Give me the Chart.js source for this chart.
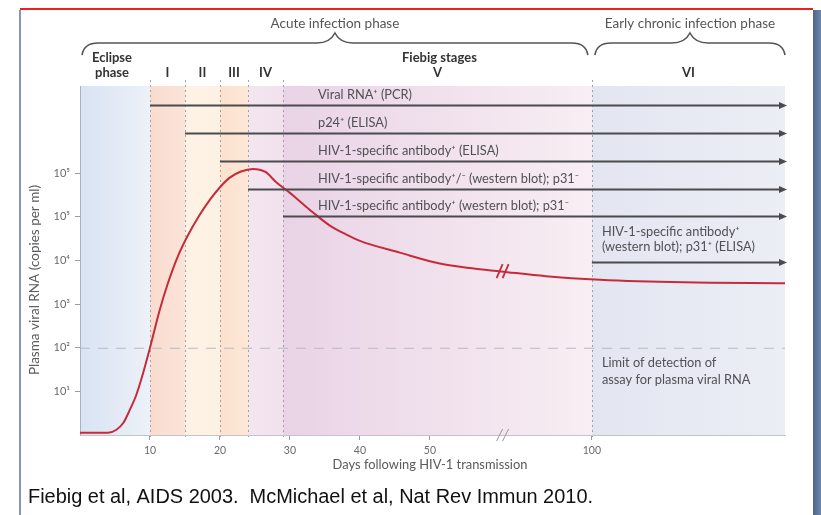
<!DOCTYPE html>
<html><head><meta charset="utf-8">
<script src="https://cdn.jsdelivr.net/npm/chart.js@4"></script>
<style>html,body{margin:0;padding:0;background:#fff;overflow:hidden}canvas{display:block}</style>
</head><body>
<div style="width:821px;height:515px;position:relative"><canvas id="c" width="821" height="515"></canvas></div>
<script>
// ---------- data ----------
const curveDays = [0, 4, 5.2, 6.2, 7.1, 8.0, 8.8, 10, 11.4, 12.5, 14, 15.5, 17, 18.6, 20, 21.4, 23, 24.7, 26.5, 28, 30, 31.6, 33.3, 35.7, 38, 40, 45.7, 51.4, 56, 60.4, 80, 103.5, 140, 184];
const curveLog10 = [0.05, 0.05, 0.12, 0.28, 0.57, 0.9, 1.3, 2.0, 2.87, 3.45, 4.1, 4.6, 5.02, 5.4, 5.68, 5.9, 6.04, 6.1, 6.03, 5.8, 5.55, 5.33, 5.1, 4.8, 4.6, 4.45, 4.18, 3.93, 3.82, 3.75, 3.64, 3.56, 3.5, 3.48];
const xTickDays = [10, 20, 30, 40, 50, 100];
const yTickValues = [10, 100, 1000, 10000, 100000, 1000000];
const yTickLabels = ['10\u00b9', '10\u00b2', '10\u00b3', '10\u2074', '10\u2075', '10\u2075'];
const stageNames = ['Eclipse|phase', 'I', 'II', 'III', 'IV', 'V', 'VI'];
const stageStartDays = [0, 10, 15, 20, 24, 29, 100];
const lastDay = 184;
const breakDay = 60.3;
const detectionLimit = 100;
const assayLabels = [
  ['Viral RNA\u207a (PCR)'],
  ['p24\u207a (ELISA)'],
  ['HIV-1-specific antibody\u207a (ELISA)'],
  ['HIV-1-specific antibody\u207a/\u207b (western blot); p31\u207b'],
  ['HIV-1-specific antibody\u207a (western blot); p31\u207b'],
  ['HIV-1-specific antibody\u207a', '(western blot); p31\u207a (ELISA)']
];
const assayStartDays = [10, 15, 20, 24, 29, 100];
const phaseTitles = ['Acute infection phase', 'Early chronic infection phase'];
const phaseBounds = [[0, 100], [100, 184]];
const xTitle = 'Days following HIV-1 transmission';
const yTitle = 'Plasma viral RNA (copies per ml)';
const limitText = ['Limit of detection of', 'assay for plasma viral RNA'];
const caption = 'Fiebig et al, AIDS 2003.  McMichael et al, Nat Rev Immun 2010.';

// ---------- axis transform (broken axis after day 60) ----------
const compressFrom = 60, compressFactor = 13.14 / 40;
function axisPos(d) { return d <= compressFrom ? d : compressFrom + (d - compressFrom) * compressFactor; }

// ---------- styles ----------
const bandColors = [
  ['#d8e3f3', '#edf1f8'],
  ['#fadcd0', '#fbe3d8'],
  ['#fef2e4', '#fdf1e4'],
  ['#fce2cf', '#fde7d6'],
  ['#f4e6ef', '#f1e2ee'],
  ['#e9d3e6', '#f8eef3'],
  ['#e3e6f1', '#eceef5']
];
const FONT = 'Lato, "Open Sans", sans-serif';

const decor = {
  id: 'decor',
  beforeDraw(chart) {
    const ctx = chart.ctx, a = chart.chartArea, xs = chart.scales.x, ys = chart.scales.y;
    const px = d => xs.getPixelForValue(axisPos(d));
    ctx.save();
    ctx.fillStyle = '#fff';
    ctx.fillRect(0, 0, chart.width, chart.height);
    for (let i = 0; i < stageStartDays.length; i++) {
      const x0 = px(stageStartDays[i]);
      const x1 = i + 1 < stageStartDays.length ? px(stageStartDays[i + 1]) : px(lastDay);
      const g = ctx.createLinearGradient(x0, 0, x1, 0);
      g.addColorStop(0, bandColors[i][0]);
      g.addColorStop(1, bandColors[i][1]);
      ctx.fillStyle = g;
      ctx.fillRect(x0, a.top, x1 - x0, a.bottom - a.top);
    }
    const yl = ys.getPixelForValue(detectionLimit);
    ctx.strokeStyle = '#b9b9c2';
    ctx.lineWidth = 1;
    ctx.setLineDash([10, 8]);
    ctx.beginPath(); ctx.moveTo(a.left, yl + 0.5); ctx.lineTo(a.right, yl + 0.5); ctx.stroke();
    ctx.strokeStyle = '#a0a0a8';
    ctx.setLineDash([2, 3]);
    for (let i = 1; i < stageStartDays.length; i++) {
      const x = Math.round(px(stageStartDays[i])) + 0.5;
      ctx.beginPath(); ctx.moveTo(x, a.top - 6); ctx.lineTo(x, a.bottom + 5); ctx.stroke();
    }
    ctx.setLineDash([]);
    ctx.restore();
  },
  afterDraw(chart) {
    const ctx = chart.ctx, a = chart.chartArea, xs = chart.scales.x, ys = chart.scales.y;
    const px = d => xs.getPixelForValue(axisPos(d));
    ctx.save();
    // arrows
    const rowY = [105, 133, 161, 189, 216, 262];
    const labelX0 = px(assayStartDays[4]) + 35;
    ctx.font = '12.8px ' + FONT;
    ctx.textBaseline = 'middle';
    ctx.textAlign = 'left';
    for (let i = 0; i < assayStartDays.length; i++) {
      const y = rowY[i] + 0.5;
      const x0 = px(assayStartDays[i]);
      const xt = a.right + 2;
      ctx.strokeStyle = '#4b4b4f';
      ctx.lineWidth = 2;
      ctx.beginPath(); ctx.moveTo(x0, y); ctx.lineTo(xt - 6, y); ctx.stroke();
      ctx.fillStyle = '#4b4b4f';
      ctx.beginPath(); ctx.moveTo(xt, y); ctx.lineTo(xt - 8, y - 3.5); ctx.lineTo(xt - 8, y + 3.5); ctx.closePath(); ctx.fill();
      ctx.fillStyle = '#505055';
      const lines = assayLabels[i];
      const lx = lines.length > 1 ? x0 + 10 : labelX0;
      for (let k = 0; k < lines.length; k++) {
        const off = lines.length > 1 ? (lines.length - k) * 15 : 10;
        ctx.fillText(lines[k], lx, rowY[i] - off);
      }
    }
    // limit text
    ctx.fillStyle = '#505055';
    const yl = ys.getPixelForValue(detectionLimit);
    ctx.fillText(limitText[0], px(100) + 10, yl + 15);
    ctx.fillText(limitText[1], px(100) + 10, yl + 32);
    // curve break
    const bx = px(breakDay) + 2, by = ys.getPixelForValue(Math.pow(10, 3.755));
    ctx.strokeStyle = '#c62b3c';
    ctx.lineWidth = 1.8;
    for (const dx of [-3, 3]) {
      ctx.beginPath(); ctx.moveTo(bx + dx - 3, by + 7); ctx.lineTo(bx + dx + 3, by - 7); ctx.stroke();
    }
    // x-axis break
    const ax = px(breakDay) + 2;
    ctx.strokeStyle = '#999';
    ctx.lineWidth = 1;
    for (const dx of [-3, 3]) {
      ctx.beginPath(); ctx.moveTo(ax + dx - 3, a.bottom + 6); ctx.lineTo(ax + dx + 3, a.bottom - 6); ctx.stroke();
    }
    // stage labels
    ctx.fillStyle = '#333';
    ctx.font = 'bold 13px ' + FONT;
    ctx.textAlign = 'center';
    for (let i = 0; i < stageNames.length; i++) {
      const x0 = px(stageStartDays[i]);
      const x1 = i + 1 < stageStartDays.length ? px(stageStartDays[i + 1]) : px(lastDay);
      const parts = stageNames[i].split('|');
      const cx = (x0 + x1) / 2 - (parts.length > 1 ? 3 : 0);
      if (parts.length > 1) {
        ctx.fillText(parts[0], cx, 58);
        ctx.fillText(parts[1], cx, 73);
      } else {
        ctx.fillText(parts[0], cx, 73);
      }
      if (stageNames[i] === 'V') ctx.fillText('Fiebig stages', cx + 2, 58);
    }
    // braces + phase titles
    ctx.strokeStyle = '#55555a';
    ctx.lineWidth = 1.6;
    ctx.fillStyle = '#555';
    ctx.font = '13.5px ' + FONT;
    for (let i = 0; i < phaseBounds.length; i++) {
      const x0 = px(phaseBounds[i][0]) + (i === 0 ? 2 : 3);
      const x1 = px(phaseBounds[i][1]) - (i === 0 ? 4 : 0);
      const m = (x0 + x1) / 2, y = 43;
      ctx.beginPath();
      ctx.moveTo(x0, y + 12);
      ctx.quadraticCurveTo(x0 + 2, y, x0 + 16, y);
      ctx.lineTo(m - 18, y);
      ctx.quadraticCurveTo(m - 5, y, m, y - 10);
      ctx.quadraticCurveTo(m + 5, y, m + 18, y);
      ctx.lineTo(x1 - 16, y);
      ctx.quadraticCurveTo(x1 - 2, y, x1, y + 12);
      ctx.stroke();
      ctx.fillText(phaseTitles[i], m, 24);
    }
    // axis titles
    ctx.fillStyle = '#5a5a5f';
    ctx.font = '12.9px ' + FONT;
    ctx.fillText(xTitle, 430, 465);
    ctx.save();
    ctx.translate(35, 280);
    ctx.rotate(-Math.PI / 2);
    ctx.font = '13.5px ' + FONT;
    ctx.fillText(yTitle, 0, 0);
    ctx.restore();
    // slide frame
    ctx.fillStyle = '#e5231f';
    ctx.fillRect(20, 8, 793, 2);
    ctx.fillStyle = '#8796b4';
    ctx.fillRect(19, 10, 2, 505);
    const gb = ctx.createLinearGradient(813, 0, 821, 0);
    gb.addColorStop(0, '#4c668c'); gb.addColorStop(1, '#6d86aa');
    ctx.fillStyle = gb;
    ctx.fillRect(813, 10, 8, 505);
    // caption
    ctx.fillStyle = '#111';
    ctx.font = '20px "Liberation Sans", Arial, sans-serif';
    ctx.textAlign = 'left';
    const w = ctx.measureText(caption).width;
    ctx.save();
    ctx.translate(28, 497);
    ctx.scale(565 / w, 1);
    ctx.fillText(caption, 0, 0);
    ctx.restore();
    ctx.restore();
  }
};

new Chart(document.getElementById('c'), {
  type: 'line',
  data: {
    datasets: [{
      data: curveDays.map((d, i) => ({ x: axisPos(d), y: Math.pow(10, curveLog10[i]) })),
      borderColor: '#c62b3c',
      borderWidth: 2,
      pointRadius: 0,
      cubicInterpolationMode: 'monotone',
      fill: false
    }]
  },
  options: {
    responsive: false,
    animation: false,
    devicePixelRatio: 1,
    layout: { padding: { left: 20, right: 36, top: 86, bottom: 30 } },
    plugins: { legend: { display: false }, tooltip: { enabled: false } },
    scales: {
      x: {
        type: 'linear', min: 0, max: axisPos(lastDay),
        afterBuildTicks: s => { s.ticks = xTickDays.map(d => ({ value: axisPos(d) })); },
        afterFit: s => { s.height = 50; },
        ticks: { callback: (v, i) => String(xTickDays[i]), font: { size: 10.5, family: FONT }, color: '#6a6a70', maxRotation: 0, autoSkip: false, padding: 4 },
        grid: { drawOnChartArea: false, color: '#9a9aa0', tickLength: 5 },
        border: { color: '#c4c4cc', width: 1 }
      },
      y: {
        type: 'logarithmic', min: 1, max: 1e8,
        afterBuildTicks: s => { s.ticks = yTickValues.map(v => ({ value: v })); },
        afterFit: s => { s.width = 60; },
        ticks: { callback: (v, i) => yTickLabels[i], font: { size: 11, family: FONT }, color: '#6a6a70', autoSkip: false, padding: 5 },
        grid: { drawOnChartArea: false, color: '#9a9aa0', tickLength: 5 },
        border: { color: '#a9b1c2', width: 1 }
      }
    }
  },
  plugins: [decor]
});
</script>
</body></html>
